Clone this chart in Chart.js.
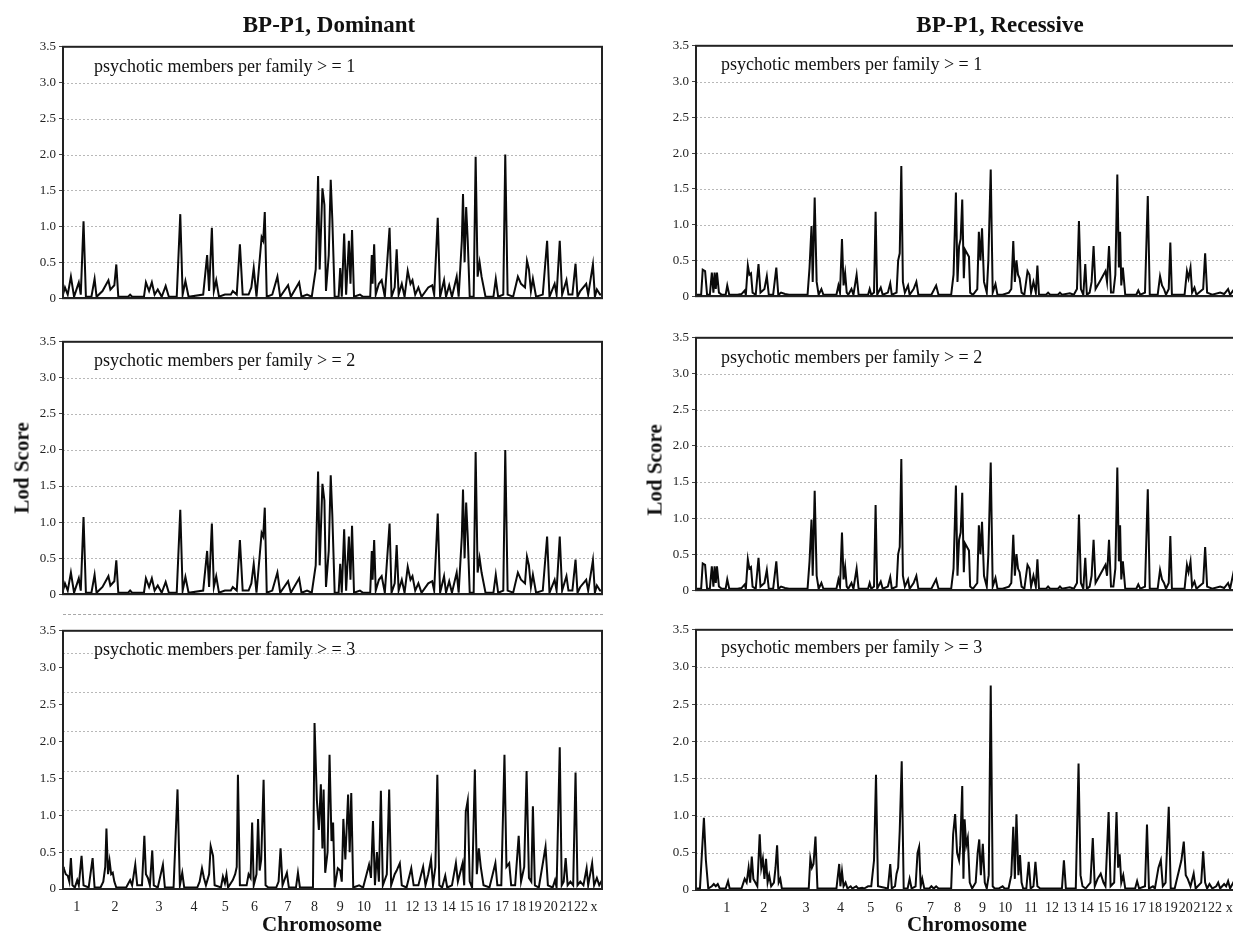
<!DOCTYPE html>
<html><head><meta charset="utf-8">
<script src="https://cdn.jsdelivr.net/npm/chart.js@4.4.1/dist/chart.umd.min.js"></script>
<style>
html,body{margin:0;padding:0;background:#fff;width:1233px;height:934px;overflow:hidden;position:relative;font-family:"Liberation Serif","Times New Roman",serif;color:#111;}
canvas{position:absolute;}
.c{position:absolute;font-weight:bold;white-space:nowrap;transform:translate(-50%,-50%);}
.v{position:absolute;font-weight:bold;white-space:nowrap;transform:translate(-50%,-50%) rotate(-90deg);}
.s{position:absolute;font-size:18px;white-space:nowrap;transform:translateY(-50%);}
</style></head><body>
<script>
// ---------- DATA (map position in plot units 0..1365, LOD score) ----------
const chromLabels = ["1","2","3","4","5","6","7","8","9","10","11","12","13","14","15","16","17","18","19","20","21","22","x"];
const chromPosLeft  = [35,132,243,332,411,485,570,637,702,762,830,885,930,977,1022,1065,1112,1155,1195,1235,1275,1312,1345];
const chromPosRight = [78,171,278,365,442,513,593,661,724,782,847,900,945,988,1032,1075,1120,1160,1200,1238,1275,1312,1348];
const yTickValues = [0,0.5,1,1.5,2,2.5,3,3.5];

const dominantGE1 = [[0,0.05],[5,0.15],[12,0.05],[20,0.3],[28,0.02],[40,0.22],[45,0.05],[52,1.07],[58,0.02],[72,0.02],[80,0.27],[85,0.02],[100,0.1],[115,0.25],[120,0.12],[130,0.18],[135,0.47],[140,0.02],[165,0.02],[170,0.05],[175,0.02],[205,0.02],[210,0.22],[218,0.1],[225,0.22],[232,0.05],[240,0.12],[250,0.02],[260,0.17],[268,0.02],[288,0.02],[297,1.17],[303,0.05],[310,0.24],[318,0.02],[355,0.05],[365,0.6],[370,0.1],[377,0.98],[382,0.1],[388,0.25],[395,0.02],[410,0.05],[425,0.05],[430,0.1],[440,0.05],[448,0.75],[455,0.05],[470,0.05],[477,0.15],[483,0.42],[490,0.02],[503,0.85],[507,0.8],[511,1.2],[516,0.02],[530,0.05],[543,0.3],[550,0.02],[570,0.18],[577,0.02],[598,0.22],[604,0.02],[618,0.05],[630,0.02],[640,0.4],[646,1.7],[650,0.4],[657,1.53],[662,1.3],[666,0.1],[673,0.6],[678,1.65],[682,1.1],[688,0.02],[698,0.02],[702,0.42],[706,0.02],[712,0.9],[717,0.05],[724,0.8],[728,0.2],[732,0.95],[737,0.02],[752,0.05],[760,0.02],[778,0.02],[782,0.6],[784,0.2],[788,0.75],[792,0.05],[800,0.2],[807,0.25],[815,0.02],[827,0.98],[832,0.02],[840,0.15],[845,0.68],[850,0.05],[858,0.2],[865,0.02],[873,0.38],[880,0.2],[885,0.25],[892,0.05],[900,0.15],[908,0.02],[925,0.15],[935,0.18],[940,0.05],[949,1.12],[955,0.02],[965,0.25],[970,0.02],[978,0.18],[985,0.02],[997,0.3],[1002,0.02],[1010,0.8],[1013,1.45],[1017,0.5],[1021,1.27],[1025,0.8],[1030,0.02],[1040,0.02],[1045,1.97],[1050,0.3],[1055,0.5],[1060,0.3],[1070,0.02],[1090,0.02],[1096,0.27],[1102,0.02],[1115,0.05],[1120,2.0],[1126,0.05],[1140,0.02],[1152,0.3],[1160,0.2],[1170,0.15],[1175,0.52],[1180,0.4],[1185,0.1],[1190,0.27],[1198,0.02],[1215,0.05],[1226,0.8],[1232,0.02],[1245,0.2],[1250,0.05],[1258,0.8],[1264,0.05],[1275,0.25],[1280,0.05],[1290,0.05],[1298,0.48],[1303,0.02],[1310,0.1],[1325,0.2],[1330,0.05],[1342,0.47],[1347,0.02],[1352,0.12],[1360,0.05],[1365,0.05]];

const dominantGE2 = [[0,0.05],[5,0.15],[12,0.05],[20,0.3],[28,0.02],[40,0.22],[45,0.05],[52,1.07],[58,0.02],[72,0.02],[80,0.27],[85,0.02],[100,0.1],[115,0.25],[120,0.12],[130,0.18],[135,0.47],[140,0.02],[165,0.02],[170,0.05],[175,0.02],[205,0.02],[210,0.22],[218,0.1],[225,0.22],[232,0.05],[240,0.12],[250,0.02],[260,0.17],[268,0.02],[288,0.02],[297,1.17],[303,0.05],[310,0.24],[318,0.02],[355,0.05],[365,0.6],[370,0.1],[377,0.98],[382,0.1],[388,0.25],[395,0.02],[410,0.05],[425,0.05],[430,0.1],[440,0.05],[448,0.75],[455,0.05],[470,0.05],[477,0.15],[483,0.42],[490,0.02],[503,0.85],[507,0.8],[511,1.2],[516,0.02],[530,0.05],[543,0.3],[550,0.02],[570,0.18],[577,0.02],[598,0.22],[604,0.02],[618,0.05],[630,0.02],[640,0.4],[646,1.7],[650,0.4],[657,1.53],[662,1.3],[666,0.1],[673,0.6],[678,1.65],[682,1.1],[688,0.02],[698,0.02],[702,0.42],[706,0.02],[712,0.9],[717,0.05],[724,0.8],[728,0.2],[732,0.95],[737,0.02],[752,0.05],[760,0.02],[778,0.02],[782,0.6],[784,0.2],[788,0.75],[792,0.05],[800,0.2],[807,0.25],[815,0.02],[827,0.98],[832,0.02],[840,0.15],[845,0.68],[850,0.05],[858,0.2],[865,0.02],[873,0.38],[880,0.2],[885,0.25],[892,0.05],[900,0.15],[908,0.02],[925,0.15],[935,0.18],[940,0.05],[949,1.12],[955,0.02],[965,0.25],[970,0.02],[978,0.18],[985,0.02],[997,0.3],[1002,0.02],[1010,0.8],[1013,1.45],[1017,0.5],[1021,1.27],[1025,0.8],[1030,0.02],[1040,0.02],[1045,1.97],[1050,0.3],[1055,0.5],[1060,0.3],[1070,0.02],[1090,0.02],[1096,0.27],[1102,0.02],[1115,0.05],[1120,2.0],[1126,0.05],[1140,0.02],[1152,0.3],[1160,0.2],[1170,0.15],[1175,0.52],[1180,0.4],[1185,0.1],[1190,0.27],[1198,0.02],[1215,0.05],[1226,0.8],[1232,0.02],[1245,0.2],[1250,0.05],[1258,0.8],[1264,0.05],[1275,0.25],[1280,0.05],[1290,0.05],[1298,0.48],[1303,0.02],[1310,0.1],[1325,0.2],[1330,0.05],[1342,0.47],[1347,0.02],[1352,0.12],[1360,0.05],[1365,0.05]];

const dominantGE3 = [[0,0.3],[2,0.28],[7,0.2],[12,0.18],[16,0.1],[20,0.42],[24,0.05],[30,0.02],[36,0.12],[40,0.05],[47,0.45],[52,0.05],[65,0.02],[75,0.42],[80,0.02],[95,0.02],[102,0.1],[107,0.3],[110,0.82],[114,0.2],[118,0.38],[122,0.2],[126,0.22],[130,0.1],[135,0.02],[160,0.02],[170,0.12],[175,0.05],[183,0.33],[188,0.05],[200,0.05],[206,0.72],[210,0.2],[215,0.15],[220,0.05],[226,0.52],[230,0.05],[240,0.02],[253,0.33],[258,0.02],[280,0.02],[290,1.35],[296,0.05],[302,0.22],[307,0.02],[340,0.02],[346,0.1],[352,0.28],[357,0.15],[362,0.05],[370,0.2],[374,0.58],[380,0.45],[384,0.05],[400,0.02],[405,0.17],[410,0.08],[414,0.2],[418,0.02],[430,0.12],[436,0.2],[440,0.3],[443,1.55],[448,0.05],[455,0.05],[465,0.05],[470,0.2],[475,0.15],[479,0.9],[483,0.05],[490,0.2],[494,0.95],[498,0.25],[502,0.4],[508,1.48],[513,0.05],[520,0.02],[540,0.02],[546,0.1],[551,0.55],[556,0.05],[567,0.22],[572,0.02],[590,0.02],[595,0.22],[600,0.02],[633,0.02],[637,2.25],[643,1.2],[648,0.8],[653,1.42],[657,0.55],[660,1.35],[664,0.22],[670,0.5],[675,1.82],[680,0.65],[684,0.9],[688,0.02],[696,0.28],[702,0.25],[706,0.1],[710,0.95],[715,0.4],[722,1.28],[726,0.5],[730,1.3],[735,0.02],[750,0.05],[760,0.02],[775,0.33],[780,0.15],[785,0.92],[790,0.05],[795,0.5],[800,0.1],[805,1.33],[810,0.05],[820,0.2],[826,1.35],[831,0.05],[840,0.2],[845,0.25],[853,0.35],[858,0.05],[870,0.02],[882,0.28],[888,0.05],[900,0.05],[912,0.3],[918,0.05],[925,0.2],[932,0.4],[937,0.05],[943,0.3],[948,1.55],[953,0.05],[960,0.02],[968,0.18],[973,0.02],[985,0.05],[995,0.35],[1000,0.1],[1012,0.35],[1016,0.05],[1020,1.05],[1025,1.2],[1030,0.1],[1036,0.02],[1043,1.62],[1048,0.2],[1053,0.55],[1058,0.3],[1065,0.05],[1080,0.02],[1095,0.35],[1100,0.05],[1110,0.05],[1118,1.82],[1123,0.3],[1130,0.35],[1135,0.05],[1145,0.05],[1154,0.72],[1160,0.1],[1168,0.3],[1174,1.6],[1180,0.15],[1186,0.1],[1190,1.12],[1195,0.05],[1205,0.02],[1222,0.57],[1228,0.05],[1240,0.02],[1246,0.12],[1250,0.02],[1258,1.92],[1263,0.05],[1268,0.1],[1273,0.42],[1278,0.05],[1285,0.1],[1292,0.05],[1298,1.58],[1303,0.05],[1310,0.1],[1318,0.05],[1326,0.28],[1330,0.05],[1340,0.35],[1345,0.05],[1352,0.15],[1358,0.05],[1365,0.12]];

const recessiveGE1 = [[0,0.02],[13,0.02],[17,0.37],[23,0.35],[28,0.02],[35,0.02],[40,0.33],[44,0.05],[47,0.33],[50,0.1],[53,0.33],[58,0.05],[65,0.02],[75,0.02],[79,0.15],[84,0.02],[105,0.02],[115,0.03],[123,0.08],[126,0.02],[131,0.43],[135,0.3],[139,0.32],[143,0.05],[151,0.02],[158,0.45],[163,0.05],[173,0.1],[179,0.28],[184,0.02],[195,0.02],[203,0.4],[208,0.02],[215,0.05],[225,0.03],[235,0.02],[282,0.02],[287,0.4],[292,0.98],[295,0.2],[300,1.38],[305,0.2],[310,0.02],[317,0.1],[322,0.02],[355,0.02],[360,0.15],[364,0.05],[369,0.8],[373,0.15],[377,0.32],[381,0.05],[385,0.02],[393,0.1],[398,0.02],[406,0.3],[411,0.02],[435,0.02],[439,0.1],[443,0.02],[450,0.05],[454,1.18],[458,0.02],[467,0.12],[472,0.02],[485,0.05],[491,0.18],[495,0.02],[507,0.05],[511,0.5],[515,0.6],[519,1.82],[523,0.2],[528,0.05],[536,0.15],[540,0.02],[550,0.1],[557,0.2],[562,0.02],[595,0.02],[607,0.15],[613,0.02],[645,0.02],[651,0.3],[657,1.45],[661,0.2],[665,0.7],[669,0.8],[673,1.35],[677,0.25],[680,0.65],[685,0.6],[690,0.55],[693,0.05],[700,0.02],[711,0.1],[715,0.9],[719,0.5],[723,0.95],[728,0.2],[735,0.05],[739,0.5],[745,1.77],[750,0.05],[757,0.17],[762,0.02],[775,0.02],[791,0.05],[797,0.1],[802,0.77],[806,0.2],[810,0.5],[814,0.3],[818,0.25],[823,0.05],[830,0.02],[838,0.35],[843,0.3],[847,0.05],[853,0.2],[859,0.05],[863,0.43],[867,0.02],[885,0.02],[890,0.05],[895,0.02],[915,0.02],[920,0.05],[925,0.02],[945,0.04],[955,0.02],[963,0.1],[968,1.05],[973,0.1],[979,0.02],[984,0.45],[988,0.02],[995,0.05],[1000,0.2],[1005,0.7],[1010,0.1],[1020,0.2],[1030,0.3],[1035,0.35],[1039,0.2],[1044,0.7],[1049,0.05],[1055,0.05],[1060,0.3],[1065,1.7],[1069,0.4],[1072,0.9],[1075,0.15],[1079,0.4],[1085,0.02],[1113,0.02],[1118,0.08],[1123,0.02],[1135,0.05],[1142,1.4],[1147,0.02],[1167,0.02],[1173,0.28],[1178,0.15],[1183,0.1],[1188,0.02],[1195,0.1],[1199,0.75],[1203,0.02],[1235,0.02],[1241,0.35],[1245,0.25],[1250,0.4],[1254,0.05],[1260,0.12],[1265,0.02],[1282,0.1],[1287,0.6],[1292,0.05],[1305,0.02],[1325,0.05],[1335,0.03],[1345,0.1],[1350,0.02],[1363,0.12],[1365,0.05]];

const recessiveGE2 = [[0,0.02],[13,0.02],[17,0.37],[23,0.35],[28,0.02],[35,0.02],[40,0.33],[44,0.05],[47,0.33],[50,0.1],[53,0.33],[58,0.05],[65,0.02],[75,0.02],[79,0.15],[84,0.02],[105,0.02],[115,0.03],[123,0.08],[126,0.02],[131,0.43],[135,0.3],[139,0.32],[143,0.05],[151,0.02],[158,0.45],[163,0.05],[173,0.1],[179,0.28],[184,0.02],[195,0.02],[203,0.4],[208,0.02],[215,0.05],[225,0.03],[235,0.02],[282,0.02],[287,0.4],[292,0.98],[295,0.2],[300,1.38],[305,0.2],[310,0.02],[317,0.1],[322,0.02],[355,0.02],[360,0.15],[364,0.05],[369,0.8],[373,0.15],[377,0.32],[381,0.05],[385,0.02],[393,0.1],[398,0.02],[406,0.3],[411,0.02],[435,0.02],[439,0.1],[443,0.02],[450,0.05],[454,1.18],[458,0.02],[467,0.12],[472,0.02],[485,0.05],[491,0.18],[495,0.02],[507,0.05],[511,0.5],[515,0.6],[519,1.82],[523,0.2],[528,0.05],[536,0.15],[540,0.02],[550,0.1],[557,0.2],[562,0.02],[595,0.02],[607,0.15],[613,0.02],[645,0.02],[651,0.3],[657,1.45],[661,0.2],[665,0.7],[669,0.8],[673,1.35],[677,0.25],[680,0.65],[685,0.6],[690,0.55],[693,0.05],[700,0.02],[711,0.1],[715,0.9],[719,0.5],[723,0.95],[728,0.2],[735,0.05],[739,0.5],[745,1.77],[750,0.05],[757,0.17],[762,0.02],[775,0.02],[791,0.05],[797,0.1],[802,0.77],[806,0.2],[810,0.5],[814,0.3],[818,0.25],[823,0.05],[830,0.02],[838,0.35],[843,0.3],[847,0.05],[853,0.2],[859,0.05],[863,0.43],[867,0.02],[885,0.02],[890,0.05],[895,0.02],[915,0.02],[920,0.05],[925,0.02],[945,0.04],[955,0.02],[963,0.1],[968,1.05],[973,0.1],[979,0.02],[984,0.45],[988,0.02],[995,0.05],[1000,0.2],[1005,0.7],[1010,0.1],[1020,0.2],[1030,0.3],[1035,0.35],[1039,0.2],[1044,0.7],[1049,0.05],[1055,0.05],[1060,0.3],[1065,1.7],[1069,0.4],[1072,0.9],[1075,0.15],[1079,0.4],[1085,0.02],[1113,0.02],[1118,0.08],[1123,0.02],[1135,0.05],[1142,1.4],[1147,0.02],[1167,0.02],[1173,0.28],[1178,0.15],[1183,0.1],[1188,0.02],[1195,0.1],[1199,0.75],[1203,0.02],[1235,0.02],[1241,0.35],[1245,0.25],[1250,0.4],[1254,0.05],[1260,0.12],[1265,0.02],[1282,0.1],[1287,0.6],[1292,0.05],[1305,0.02],[1325,0.05],[1335,0.03],[1345,0.1],[1350,0.02],[1360,0.28],[1365,0.2]];

const recessiveGE3 = [[0,0.02],[10,0.02],[15,0.5],[20,0.97],[25,0.4],[31,0.02],[40,0.05],[45,0.08],[50,0.05],[55,0.08],[60,0.02],[75,0.02],[81,0.12],[85,0.02],[115,0.02],[123,0.15],[128,0.1],[133,0.3],[137,0.1],[141,0.45],[145,0.15],[150,0.1],[155,0.05],[161,0.75],[165,0.3],[169,0.42],[173,0.15],[177,0.42],[181,0.1],[185,0.2],[190,0.05],[197,0.1],[201,0.3],[205,0.6],[209,0.1],[213,0.15],[217,0.02],[255,0.02],[285,0.02],[289,0.42],[293,0.3],[297,0.35],[302,0.72],[307,0.02],[355,0.02],[362,0.35],[365,0.05],[369,0.25],[373,0.05],[378,0.1],[383,0.02],[391,0.05],[395,0.02],[405,0.05],[410,0.02],[420,0.03],[425,0.02],[435,0.05],[443,0.05],[450,0.4],[455,1.55],[460,0.05],[485,0.02],[491,0.35],[495,0.02],[503,0.05],[507,0.22],[511,0.3],[515,0.8],[520,1.73],[525,0.02],[535,0.02],[540,0.15],[545,0.02],[555,0.05],[560,0.5],[564,0.58],[568,0.05],[572,0.15],[577,0.02],[590,0.02],[595,0.05],[601,0.02],[607,0.05],[613,0.02],[645,0.02],[650,0.75],[655,1.02],[660,0.5],[665,0.4],[668,0.6],[673,1.4],[676,0.15],[679,0.95],[683,0.6],[687,0.7],[692,0.1],[698,0.02],[707,0.1],[712,0.5],[716,0.68],[720,0.2],[725,0.62],[730,0.1],[735,0.02],[740,0.2],[745,2.75],[750,0.05],[755,0.02],[765,0.02],[775,0.05],[780,0.02],[790,0.02],[797,0.2],[802,0.85],[806,0.15],[810,1.02],[815,0.2],[819,0.47],[823,0.1],[827,0.02],[835,0.02],[841,0.38],[846,0.02],[853,0.05],[858,0.38],[863,0.05],[870,0.02],[925,0.02],[930,0.4],[935,0.02],[960,0.02],[967,1.7],[972,0.2],[977,0.05],[985,0.02],[997,0.1],[1003,0.7],[1008,0.05],[1015,0.15],[1023,0.22],[1030,0.1],[1035,0.05],[1043,1.05],[1048,0.05],[1057,0.1],[1063,1.05],[1067,0.3],[1071,0.48],[1075,0.1],[1080,0.2],[1085,0.02],[1110,0.02],[1115,0.12],[1120,0.02],[1135,0.05],[1140,0.88],[1145,0.02],[1155,0.05],[1160,0.02],[1169,0.3],[1175,0.4],[1180,0.05],[1187,0.1],[1195,1.12],[1200,0.02],[1210,0.02],[1227,0.4],[1233,0.65],[1238,0.2],[1243,0.15],[1250,0.05],[1258,0.22],[1263,0.02],[1277,0.1],[1282,0.52],[1287,0.1],[1292,0.02],[1298,0.08],[1305,0.02],[1315,0.05],[1320,0.1],[1325,0.02],[1335,0.08],[1340,0.05],[1345,0.12],[1350,0.02],[1360,0.12],[1365,0.05]];

// ---------- PLUGINS ----------
const framePlugin = {
  id: 'frame',
  afterDatasetsDraw(chart) {
    const a = chart.chartArea, ctx = chart.ctx;
    ctx.save(); ctx.strokeStyle = '#222'; ctx.lineWidth = 2;
    ctx.strokeRect(a.left, a.top, a.right - a.left, a.bottom - a.top);
    ctx.restore();
  }
};
const gridPlugin = {
  id: 'dotgrid',
  beforeDatasetsDraw(chart, args, opts) {
    const a = chart.chartArea, ctx = chart.ctx, ys = chart.scales.y;
    ctx.save(); ctx.strokeStyle = '#b8b8b8'; ctx.lineWidth = 1; ctx.setLineDash([2, 2]);
    (opts.values || []).forEach(v => {
      const y = Math.round(ys.getPixelForValue(v)) + 0.5;
      ctx.beginPath(); ctx.moveTo(a.left, y); ctx.lineTo(a.right, y); ctx.stroke();
    });
    ctx.restore();
  }
};

// ---------- PANELS ----------
function panel(plot, series, tickPos, showX, gridVals) {
  const padL = 50, padT = 10, padR = 12, axH = showX ? 26 : 4;
  const w = plot.x1 - plot.x0 + padL + padR;
  const h = plot.y1 - plot.y0 + padT + axH;
  const c = document.createElement('canvas');
  c.width = w; c.height = h;
  c.style.left = (plot.x0 - padL) + 'px'; c.style.top = (plot.y0 - padT) + 'px';
  c.style.width = w + 'px'; c.style.height = h + 'px';
  document.body.appendChild(c);
  new Chart(c, {
    type: 'line',
    data: { datasets: [{ data: series.map(p => ({ x: p[0], y: p[1] })), borderColor: '#0a0a0a', borderWidth: 2, pointRadius: 0, tension: 0, fill: false, borderJoinStyle: 'miter' }] },
    options: {
      responsive: false, animation: false, devicePixelRatio: 1, events: [],
      layout: { padding: { top: padT, right: padR, left: 0, bottom: 0 } },
      plugins: { legend: { display: false }, tooltip: { enabled: false }, dotgrid: { values: gridVals } },
      scales: {
        x: {
          type: 'linear', min: 0, max: 1365,
          grid: { display: false },
          border: { display: true, color: '#111', width: 2 },
          afterFit(s) { s.height = axH; },
          afterBuildTicks(s) { s.ticks = tickPos.map(v => ({ value: v })); },
          ticks: { display: showX, autoSkip: false, maxRotation: 0, minRotation: 0, padding: 2, color: '#222',
                   font: { family: 'Liberation Serif', size: 14 }, callback: (v, i) => chromLabels[i] }
        },
        y: {
          type: 'linear', min: 0, max: 3.5,
          afterFit(s) { s.width = padL; },
          afterBuildTicks(s) { s.ticks = yTickValues.map(v => ({ value: v })); },
          ticks: { padding: 3, color: '#222', font: { family: 'Liberation Serif', size: 13 },
                   callback: v => v === 0 ? '0' : v.toFixed(1) },
          grid: { drawOnChartArea: false, drawTicks: true, tickLength: 4, tickColor: '#444', tickWidth: 1 },
          border: { display: true, color: '#222', width: 2 }
        }
      }
    },
    plugins: [gridPlugin, framePlugin]
  });
}

const stdGrid = [0.5, 1, 1.5, 2, 2.5, 3];
const oddGrid = [0.535, 1.07, 1.6, 2.135, 2.665, 3.2];
panel({x0:63, x1:602, y0:46, y1:305}, dominantGE1, chromPosLeft, false, stdGrid);
panel({x0:63, x1:602, y0:341, y1:601}, dominantGE2, chromPosLeft, false, stdGrid);
panel({x0:63, x1:602, y0:630, y1:889}, dominantGE3, chromPosLeft, true, oddGrid);
panel({x0:696, x1:1236, y0:45, y1:303}, recessiveGE1, chromPosRight, false, stdGrid);
panel({x0:696, x1:1236, y0:337, y1:597}, recessiveGE2, chromPosRight, false, stdGrid);
panel({x0:696, x1:1236, y0:629, y1:890}, recessiveGE3, chromPosRight, true, stdGrid);
</script>

<div style="position:absolute;left:63px;top:614px;width:540px;border-top:1px dashed #a8a8a8;"></div>

<div class="c" style="left:329px;top:25px;font-size:23px;">BP-P1, Dominant</div>
<div class="c" style="left:1000px;top:25px;font-size:23px;">BP-P1, Recessive</div>

<div class="s" style="left:94px;top:66px;">psychotic members per family &gt; = 1</div>
<div class="s" style="left:94px;top:360px;">psychotic members per family &gt; = 2</div>
<div class="s" style="left:94px;top:649px;">psychotic members per family &gt; = 3</div>
<div class="s" style="left:721px;top:64px;">psychotic members per family &gt; = 1</div>
<div class="s" style="left:721px;top:357px;">psychotic members per family &gt; = 2</div>
<div class="s" style="left:721px;top:647px;">psychotic members per family &gt; = 3</div>

<div class="v" style="left:22px;top:468px;font-size:21px;">Lod Score</div>
<div class="v" style="left:655px;top:470px;font-size:21px;">Lod Score</div>

<div class="c" style="left:322px;top:924px;font-size:21px;">Chromosome</div>
<div class="c" style="left:967px;top:924px;font-size:21px;">Chromosome</div>
</body></html>
